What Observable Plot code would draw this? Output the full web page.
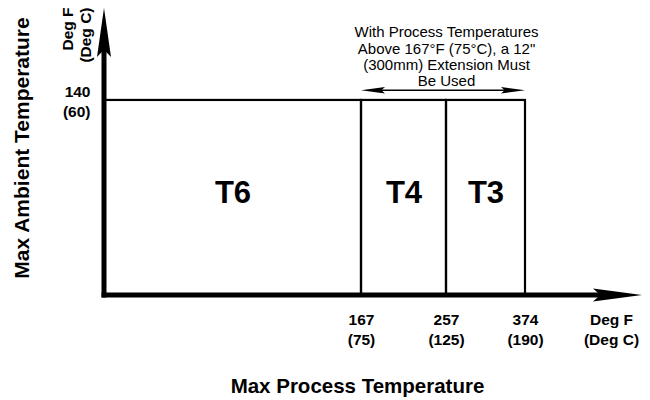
<!DOCTYPE html>
<html>
<head>
<meta charset="utf-8">
<script src="https://cdn.jsdelivr.net/npm/d3@7"></script>
<script src="https://cdn.jsdelivr.net/npm/@observablehq/plot@0.6"></script>
<style>
  html, body { margin: 0; padding: 0; background: #fff; }
</style>
</head>
<body>
<div id="chart"></div>
<script>
// ---- data ----
const zoneNames = ["T6", "T4", "T3"];
const zoneBoundsF = [0, 167, 257, 374];
const tickF = [167, 257, 374];
const tickC = [75, 125, 190];
const ambientMaxF = 140;
const ambientMaxC = 60;
const xAxisEnd = 546;   // arrow tip of process-temperature axis (deg F, schematic)
const yAxisEnd = 206;   // arrow tip of ambient-temperature axis (deg F, schematic)
const noteSpan = [167, 374];
const noteLines = [
  "With Process Temperatures",
  "Above 167°F (75°C), a 12\"",
  "(300mm) Extension Must",
  "Be Used"
];
const xLabel = "Max Process Temperature";
const yLabel = "Max Ambient Temperature";
const unitLabel = "Deg F\n(Deg C)";

// ---- derived tables ----
const zones = zoneNames.map((name, i) => ({name, x1: zoneBoundsF[i], x2: zoneBoundsF[i + 1]}));
const cOf = new Map(tickF.map((f, i) => [f, tickC[i]]));
const noteY = 147;

const arrows = [
  {x1: 0, y1: 0, x2: 0, y2: yAxisEnd, start: false, end: true, len: 49, half: 7, width: 5},
  {x1: 0, y1: 0, x2: xAxisEnd, y2: 0, start: false, end: true, len: 49, half: 6.5, width: 5},
  {x1: noteSpan[0], y1: noteY, x2: noteSpan[1], y2: noteY, start: true, end: true, len: 24, half: 3.2, width: 1.6}
];

function arrowMark(list) {
  return (index, scales) => {
    const g = d3.create("svg:g");
    for (const a of list) {
      const x1 = scales.x(a.x1), y1 = scales.y(a.y1), x2 = scales.x(a.x2), y2 = scales.y(a.y2);
      const L = Math.hypot(x2 - x1, y2 - y1);
      const ux = (x2 - x1) / L, uy = (y2 - y1) / L;
      const nx = -uy, ny = ux;
      const sx = a.start ? x1 + ux * a.len * 0.5 : x1;
      const sy = a.start ? y1 + uy * a.len * 0.5 : y1;
      const ex = a.end ? x2 - ux * a.len * 0.5 : x2;
      const ey = a.end ? y2 - uy * a.len * 0.5 : y2;
      g.append("line")
        .attr("x1", sx).attr("y1", sy).attr("x2", ex).attr("y2", ey)
        .attr("stroke", "#000").attr("stroke-width", a.width)
        .attr("stroke-linecap", a.start ? "butt" : "square");
      const head = (tx, ty, dx, dy) => {
        const bx = tx - dx * a.len, by = ty - dy * a.len;
        const mx = tx - dx * a.len * 0.85, my = ty - dy * a.len * 0.85;
        return `M${tx},${ty}L${bx + nx * a.half},${by + ny * a.half}L${mx},${my}L${bx - nx * a.half},${by - ny * a.half}Z`;
      };
      if (a.end) g.append("path").attr("d", head(x2, y2, ux, uy)).attr("fill", "#000");
      if (a.start) g.append("path").attr("d", head(x1, y1, -ux, -uy)).attr("fill", "#000");
    }
    return g.node();
  };
}

const chart = Plot.plot({
  width: 650,
  height: 400,
  marginLeft: 104,
  marginRight: 40,
  marginTop: 0,
  marginBottom: 105,
  style: {fontFamily: "'Liberation Sans', Arial, sans-serif", fontWeight: "bold", background: "#fff", color: "#000"},
  x: {type: "linear", domain: [...zoneBoundsF, xAxisEnd], range: [104, 361, 446, 525, 642], label: null},
  y: {type: "linear", domain: [0, yAxisEnd], range: [295, 8], label: null},
  marks: [
    Plot.rect(zones, {x1: d => d.x1, x2: d => d.x2, y1: 0, y2: ambientMaxF, fill: "none", stroke: "#000", strokeWidth: 2.2}),
    Plot.text(zones, {x: d => (d.x1 + d.x2) / 2, y: ambientMaxF / 2, text: d => d.name, fontSize: 31, fontWeight: "bold", dy: -5}),
    arrowMark(arrows),
    Plot.text([noteLines.join("\n")], {x: tickF[1], y: noteY, text: d => d, fontSize: 15, fontWeight: "normal", lineAnchor: "middle", lineHeight: 1.09, dy: -34}),
    Plot.axisX({ticks: tickF, tickSize: 0, tickPadding: 15, tickFormat: d => `${d}\n(${cOf.get(d)})`, fontSize: 15.5, fontWeight: "bold", lineHeight: 1.3, label: null}),
    Plot.axisY({ticks: [ambientMaxF], tickSize: 0, tickPadding: 14, tickFormat: d => `${d}\n(${ambientMaxC})`, fontSize: 15.5, fontWeight: "bold", lineHeight: 1.3, label: null}),
    Plot.text([unitLabel], {frameAnchor: "bottom-right", dx: 1, dy: 15, text: d => d, lineAnchor: "top", textAnchor: "middle", fontSize: 15.5, fontWeight: "bold", lineHeight: 1.3}),
    Plot.text([unitLabel], {frameAnchor: "top-left", dx: -28, dy: 7, text: d => d, rotate: -90, textAnchor: "end", lineAnchor: "middle", fontSize: 15.5, fontWeight: "bold", lineHeight: 1.16}),
    Plot.text([xLabel], {frameAnchor: "bottom", dy: 91, text: d => d, fontSize: 20.5, fontWeight: "bold", lineAnchor: "middle"}),
    Plot.text([yLabel], {frameAnchor: "left", dx: -82, text: d => d, rotate: -90, textAnchor: "middle", fontSize: 21, fontWeight: "bold", lineAnchor: "middle"})
  ]
});
document.getElementById("chart").appendChild(chart);
</script>
</body>
</html>
